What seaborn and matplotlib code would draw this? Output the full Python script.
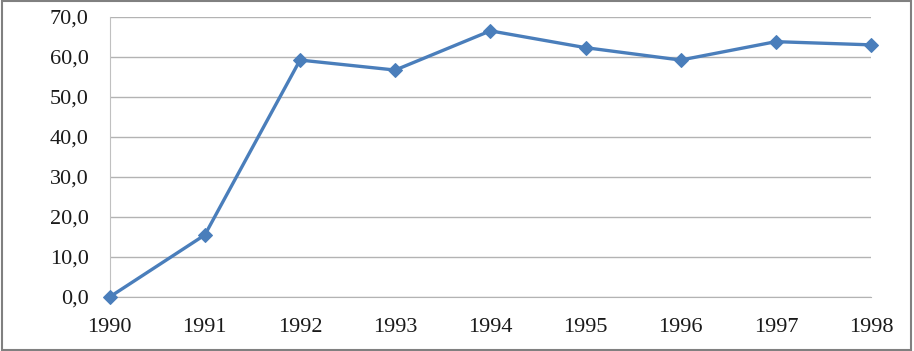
import seaborn as sns
import pandas as pd
import matplotlib.pyplot as plt
from matplotlib.patches import Rectangle
from matplotlib.ticker import FuncFormatter

years = [1990, 1991, 1992, 1993, 1994, 1995, 1996, 1997, 1998]
values = [0.0, 15.5, 59.2, 56.7, 66.5, 62.3, 59.2, 63.8, 63.0]

df = pd.DataFrame({'Year': years, 'Value': values})

sns.set_style("white")
plt.rcParams['font.family'] = ['Liberation Serif', 'DejaVu Serif']

fig = plt.figure(figsize=(9.14, 3.51), dpi=100)
ax = fig.add_axes([0.120, 0.154, 0.833, 0.798])

sns.lineplot(data=df, x='Year', y='Value', ax=ax, color='#4a7ebb',
             linewidth=2.4, marker='D', markersize=7,
             markeredgecolor='#4a7ebb', clip_on=False, zorder=5)

ax.set_xlim(1990, 1998)
ax.set_ylim(0, 70)
ax.set_xticks(years)
ax.set_yticks(range(0, 80, 10))
ax.yaxis.set_major_formatter(FuncFormatter(lambda v, p: f"{v:.1f}".replace('.', ',')))
ax.grid(axis='y', color='#b3b3b3', linewidth=1)
ax.set_axisbelow(True)
ax.set_xlabel('')
ax.set_ylabel('')

for s in ['top', 'right']:
    ax.spines[s].set_visible(False)
ax.spines['left'].set_color('#c0c0c0')
ax.spines['bottom'].set_color('#b3b3b3')
ax.tick_params(axis='x', length=4, color='#b3b3b3', labelsize=16, pad=11)
ax.tick_params(axis='y', length=0, labelsize=16, pad=15)
for lab in ax.get_xticklabels() + ax.get_yticklabels():
    lab.set_color('#1a1a1a')

fig.patches.append(Rectangle((0.002, 0.003), 0.995, 0.993, transform=fig.transFigure,
                             fill=False, edgecolor='#808080', linewidth=1.5))

fig.savefig('out.png', dpi=100)
